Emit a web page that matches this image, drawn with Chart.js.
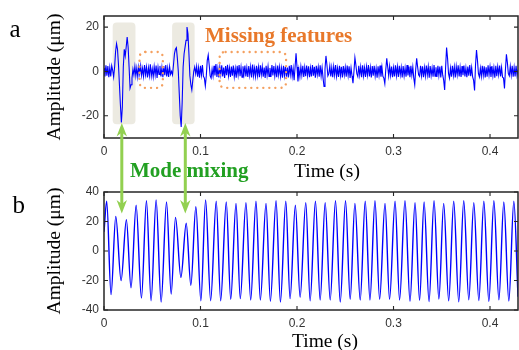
<!DOCTYPE html>
<html><head><meta charset="utf-8">
<script src="https://cdn.jsdelivr.net/npm/chart.js@4.4.1/dist/chart.umd.min.js"></script>
<style>
html,body{margin:0;padding:0;background:#fff;}
#wrap{position:relative;width:519px;height:350px;overflow:hidden;background:#fff;}
canvas{position:absolute;left:0;}
#cA{top:0;}
#cB{top:175px;}
svg{position:absolute;left:0;top:0;}
</style></head><body>
<div id="wrap">
<canvas id="cA" width="519" height="170"></canvas>
<canvas id="cB" width="519" height="175"></canvas>
<svg width="519" height="350" xmlns="http://www.w3.org/2000/svg">
  <g fill="#92D050">
    <rect x="120.3" y="131" width="3" height="75"/>
    <polygon points="121.8,123 127,136.5 121.8,132.5 116.6,136.5"/>
    <polygon points="121.8,213.5 127,200 121.8,204 116.6,200"/>
    <rect x="183.8" y="131" width="3" height="75"/>
    <polygon points="185.3,123 190.5,136.5 185.3,132.5 180.1,136.5"/>
    <polygon points="185.3,213.5 190.5,200 185.3,204 180.1,200"/>
  </g>
  <g font-family="'Liberation Serif','Times New Roman',serif">
    <text x="9.5" y="36.7" font-size="25" fill="#000">a</text>
    <text x="12.5" y="213.3" font-size="25" fill="#000">b</text>
    <text x="205" y="41.5" font-size="21" font-weight="bold" fill="#E8782A">Missing features</text>
    <text x="130" y="177" font-size="21" font-weight="bold" fill="#22A022">Mode mixing</text>
    <text x="327" y="177" font-size="19.5" text-anchor="middle" fill="#000">Time (s)</text>
    <text x="325" y="347" font-size="19.5" text-anchor="middle" fill="#000">Time (s)</text>
  </g>
</svg>
</div>
<script>
// ---- data ----
const SAMPLE_INTERVAL_A = 0.001; // s between samples of signal (a)
const ampA = [
 1.5,-2.2,2.8,-1.9,2.4,-2.6,1.8,-2.3,2.6,0.5,
 -2.5,2,9,12.5,10,3,-6,-15,-23,-16,
 2,10,7,11,15.5,11,2,-7.5,-6,-3,
 1,-1.5,2.3,-2,1.6,-2.4,2.1,-1.2,2.6,-1.8,
 1.4,-2.2,2.9,-1.5,2,-2.7,1.7,-1.9,3.2,-2.1,
 1.2,-2.4,2.2,-1.6,2.7,-2.9,1.9,-1.4,2.5,-2.3,
 1.8,-2.6,2.4,-1.7,2.9,-2.2,1.6,-2.5,2.1,-1.3,
 0,-1.5,3,8,10,10.7,6,0,-10,-20,
 -25,-14,2,8,11,14,20,17,8,-2,
 -6,-8.3,-4,0,2,-1,2.3,-2.4,1.7,-2.8,
 2.5,-1.6,2.9,-2.2,-3,-6.5,-2,5,7.4,3,
 -2,-3,1,-2.1,2.6,-1.8,3.3,-2.5,1.5,-2.7,
 2.2,-1.5,2.8,-2.3,1.8,-2.9,2.4,-1.7,3,-2,
 1.6,-2.5,2.2,-1.9,2.7,-2.4,1.3,-2.8,2.5,-1.6,
 2.9,-2.1,1.9,-2.6,2.3,-1.4,2.7,-2.2,1.7,-2.5,
 2.4,-1.8,2.1,-2.7,3.1,-2,1.5,-2.3,2.6,-1.9,
 2,-2.6,2.8,-1.5,2.2,-2.4,1.8,-2.9,2.5,-1.7,
 2.3,-2.2,1.6,-2.5,2.9,-1.8,2.4,-2.1,1.9,-2.6,
 2.7,-1.6,2.1,-2.3,1.5,-2.8,2.6,-1.9,2.2,-2.4,
 1.8,-2.7,2.5,-1.5,2.9,-2.2,1.4,-4,2,8.2,
 2,-4.5,1,-2.4,2.2,-1.7,2.6,-2.5,1.9,-2.1,
 2.7,-1.8,2.3,-2.6,1.6,-2.2,2.9,-1.9,2.1,-2.8,
 2.5,-1.5,2,-2.4,2.8,-2.1,1.7,-3,-6.8,1,
 7,3,-2,-1,2.4,-2.3,1.8,-2.6,2.2,-1.7,
 2.9,-2.2,1.5,-2.5,2.6,-1.9,2.1,-2.7,2.4,-1.6,
 1.9,-2.4,2.7,-1.8,2.3,-2.9,1.6,-2,-5.3,0,
 6.2,3,-1,-2.3,2.5,-1.7,2.1,-2.6,2.8,-2,
 1.7,-2.5,2.2,-1.6,2.9,-2.3,1.8,-2.7,2.4,-1.9,
 2.6,-2.1,1.5,-2.8,2.3,-1.7,2.7,-2.4,2,-2.2,
 -3,-5.5,1,5.9,2,-2,2.4,-1.8,2.2,-2.6,
 1.7,-2.3,2.8,-1.9,2.1,-2.5,2.6,-1.6,1.9,-2.7,
 2.4,-2,1.6,-2.4,2.9,-1.8,2.2,-2.6,2.5,-1.7,
 2,-3,-6,1,5.9,2,-1.5,-2.2,2.5,-1.9,
 2.3,-2.6,1.8,-2.1,2.7,-1.6,2.2,-2.8,2.4,-1.9,
 1.6,-2.4,2.9,-2.1,1.9,-2.5,2.6,-1.8,2.2,-2.7,
 2.5,-1.7,-4,-8.3,2,10.8,6,-1,-3,1.5,
 -2.4,2.6,-1.8,2.1,-2.7,2.3,-1.5,2.8,-2.2,1.9,
 -2.5,2.4,-1.7,2.7,-2.3,1.6,-2.6,2.2,-1.9,2.9,
 -2.1,1.8,-2.4,-4,-8.6,3,9.7,5,-1,-2.5,
 1.5,-2.2,2.6,-1.8,2.3,-2.7,1.9,-2.4,2.8,-1.6,
 2.1,-2.5,2.4,-1.9,1.7,-2.8,2.6,-2.1,2.2,-1.5,
 2.7,-2.3,1.8,-2.6,-3,-7.7,1,7.7,4,-1,
 -2,2.3,-1.7,2.5,-2.4,1.9,-2.2,2.6,-1.8,0.8
];
// signal (b): times of its peaks and troughs, and their amplitudes
const timeB = [0,0.0028,0.0073,0.0122,0.0177,0.0232,0.028,0.0333,0.0388,0.044,
 0.0488,0.054,0.0592,0.0648,0.0696,0.0741,0.0797,0.0852,0.09,0.0952,
 0.1004,0.1053,0.1105,0.1163,0.1209,0.1267,0.1313,0.1368,0.1412,0.1471,
 0.152,0.1575,0.162,0.1679,0.1724,0.1783,0.1828,0.1884,0.1928,0.1983,
 0.2032,0.2091,0.2136,0.2191,0.224,0.2292,0.2344,0.2399,0.2448,0.2503,
 0.2551,0.26,0.2655,0.2707,0.2756,0.2808,0.2856,0.2912,0.2959,0.3016,
 0.3063,0.3119,0.3171,0.3223,0.327,0.3317,0.3368,0.342,0.347,0.352,
 0.3572,0.3624,0.3676,0.3728,0.378,0.3832,0.3884,0.3936,0.3988,0.404,
 0.4092,0.4143,0.4195,0.4247,0.429];
const ampB = [13,33.7,-29.6,23.5,-20.1,21.2,-25,31,-31.9,34.1,
 -33.7,34.6,-34.6,33.2,-29.2,22.8,-17.9,18.8,-23.3,30,
 -33.7,34.6,-33.7,33.7,-33.7,33.2,-32.8,32.3,-32.3,32.8,
 -33.2,33.7,-33.2,32.3,-34.1,34.1,-34.6,33.7,-32.3,31,
 -31.4,32.8,-33.7,33.7,-33.2,32.8,-33.2,34.1,-34.6,34.1,
 -32.8,32.3,-33.2,33.7,-33.2,34.1,-32.8,32.3,-32.8,33.7,
 -33.2,34.1,-34.1,32.8,-33.5,33.2,-34.3,34.1,-32.6,32.3,
 -33.8,33.7,-34.5,34.1,-33,32.8,-33.6,33.7,-34.2,34.1,
 -33.1,33.2,-33.9,33.7,-31];
const xTicks = [0,0.1,0.2,0.3,0.4];
const yTicksA = [-20,0,20];
const yTicksB = [-40,-20,0,20,40];
// annotation regions (data units)
const modeMixRegions = [[0.009,0.0326],[0.0706,0.0939]];
const missingRegions = [[0.0368,0.061],[0.1198,0.1887]];

// ---- chart setup ----
const TICK_FONT = {family:"'Liberation Sans', Arial, sans-serif", size:12};
const SERIF = "'Liberation Serif','Times New Roman',serif";

function rr(ctx,x,y,w,h,r){
  ctx.beginPath();
  ctx.moveTo(x+r,y);ctx.lineTo(x+w-r,y);ctx.quadraticCurveTo(x+w,y,x+w,y+r);
  ctx.lineTo(x+w,y+h-r);ctx.quadraticCurveTo(x+w,y+h,x+w-r,y+h);
  ctx.lineTo(x+r,y+h);ctx.quadraticCurveTo(x,y+h,x,y+h-r);
  ctx.lineTo(x,y+r);ctx.quadraticCurveTo(x,y,x+r,y);ctx.closePath();
}

const framePlugin = {
  id:'frame',
  afterDraw(chart){
    const {ctx, chartArea:a, scales:{x,y}} = chart;
    ctx.save();
    ctx.strokeStyle='#262626';
    ctx.lineWidth=1.1;
    ctx.beginPath();
    x.ticks.forEach(t=>{const p=x.getPixelForValue(t.value);
      ctx.moveTo(p,a.bottom);ctx.lineTo(p,a.bottom-4);
      ctx.moveTo(p,a.top);ctx.lineTo(p,a.top+4);});
    y.ticks.forEach(t=>{const p=y.getPixelForValue(t.value);
      ctx.moveTo(a.left,p);ctx.lineTo(a.left+4,p);
      ctx.moveTo(a.right,p);ctx.lineTo(a.right-4,p);});
    ctx.stroke();
    ctx.lineWidth=1.5;
    ctx.strokeRect(a.left,a.top,a.right-a.left,a.bottom-a.top);
    ctx.restore();
  }
};

const annotPlugin = {
  id:'annot',
  beforeDatasetsDraw(chart){
    const {ctx, scales:{x,y}} = chart;
    ctx.save();
    ctx.fillStyle='#ECEAE1';
    modeMixRegions.forEach(([t0,t1])=>{
      const x0=x.getPixelForValue(t0), x1=x.getPixelForValue(t1);
      const y0=y.getPixelForValue(22.1), y1=y.getPixelForValue(-23.8);
      rr(ctx,x0,y0,x1-x0,y1-y0,4); ctx.fill();
    });
    ctx.restore();
  },
  afterDatasetsDraw(chart){
    const {ctx, scales:{x,y}} = chart;
    ctx.save();
    ctx.strokeStyle='#F4A060';
    ctx.lineWidth=2.4; ctx.lineCap='round';
    ctx.setLineDash([0.01,6]);
    missingRegions.forEach(([t0,t1])=>{
      const x0=x.getPixelForValue(t0), x1=x.getPixelForValue(t1);
      const y0=y.getPixelForValue(8.8), y1=y.getPixelForValue(-7.4);
      rr(ctx,x0,y0,x1-x0,y1-y0,6); ctx.stroke();
    });
    ctx.restore();
  }
};

function opts(yMin,yMax,yTicks,padTop,padBottom){
  return {
    responsive:false, animation:false, events:[],
    layout:{padding:{left:0,right:1,top:padTop,bottom:padBottom}},
    plugins:{legend:{display:false},tooltip:{enabled:false}},
    elements:{point:{radius:0}},
    scales:{
      x:{type:'linear',min:0,max:0.429,
        afterBuildTicks:s=>{s.ticks=xTicks.map(v=>({value:v}));},
        afterFit:s=>{s.height=30;},
        grid:{display:false,drawTicks:false},border:{display:false},
        ticks:{padding:6,font:TICK_FONT,color:'#333',maxRotation:0,callback:v=>String(v)}},
      y:{type:'linear',min:yMin,max:yMax,
        afterBuildTicks:s=>{s.ticks=yTicks.map(v=>({value:v}));},
        afterFit:s=>{s.width=104;},
        grid:{display:false,drawTicks:false},border:{display:false},
        ticks:{padding:5,font:TICK_FONT,color:'#333',callback:v=>String(v)},
        title:{display:true,text:'Amplitude (μm)',color:'#000',
          font:{family:SERIF,size:19.5},padding:{top:43,bottom:0}}}
    }
  };
}

new Chart(document.getElementById('cA'),{
  type:'line',
  data:{datasets:[{data:ampA.map((v,i)=>({x:i*SAMPLE_INTERVAL_A,y:v})),
    borderColor:'#0000FF',borderWidth:1.1,pointRadius:0,tension:0,fill:false}]},
  options:opts(-30,25,yTicksA,16,2),
  plugins:[annotPlugin,framePlugin]
});

new Chart(document.getElementById('cB'),{
  type:'line',
  data:{datasets:[{data:timeB.map((t,i)=>({x:t,y:ampB[i]})),
    borderColor:'#0000FF',borderWidth:1.4,pointRadius:0,
    cubicInterpolationMode:'monotone',fill:false}]},
  options:opts(-40,40,yTicksB,17,10),
  plugins:[framePlugin]
});
</script>
</body></html>
